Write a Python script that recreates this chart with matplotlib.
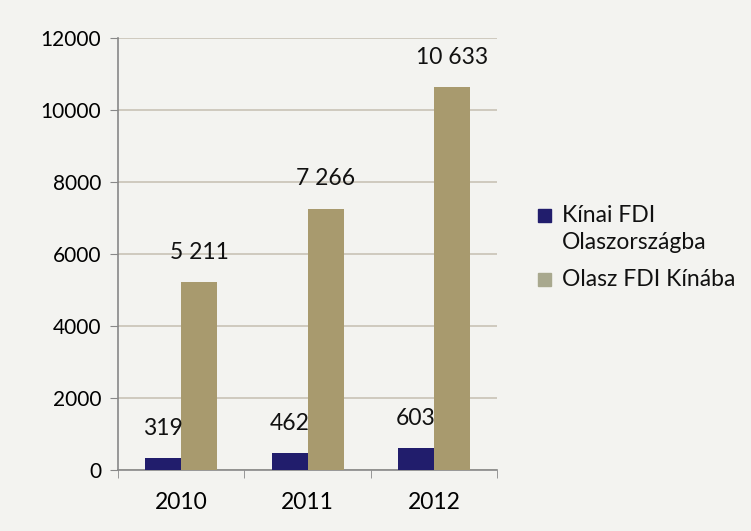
import matplotlib.pyplot as plt
from matplotlib.patches import Rectangle
import numpy as np

plt.rcParams['font.family'] = ['Lato', 'DejaVu Sans']

years = ['2010', '2011', '2012']
kinai_fdi = [319, 462, 603]
olasz_fdi = [5211, 7266, 10633]
kinai_labels = ['319', '462', '603']
olasz_labels = ['5 211', '7 266', '10 633']
legend_names = ['Kínai FDI\nOlaszországba', 'Olasz FDI Kínába']

navy = '#211d6c'
tan = '#a89a6e'
bg = '#f3f3f0'

fig = plt.figure(figsize=(7.51, 5.31), dpi=100, facecolor=bg)
ax = fig.add_axes([0.157, 0.115, 0.505, 0.813])
ax.set_facecolor(bg)

x = np.arange(len(years))
w = 0.285
b1 = ax.bar(x - w / 2, kinai_fdi, w, color=navy, zorder=3)
b2 = ax.bar(x + w / 2, olasz_fdi, w, color=tan, zorder=3)

for bars, labs in [(b1, kinai_labels), (b2, olasz_labels)]:
    for r, t in zip(bars, labs):
        ax.annotate(t, (r.get_x() + r.get_width() / 2, r.get_height()),
                    xytext=(0, 14), textcoords='offset points',
                    ha='center', va='bottom', fontsize=16.5, color='#111111')

ax.set_ylim(0, 12000)
ax.set_xlim(-0.5, 2.5)
ax.set_yticks(range(0, 12001, 2000))
ax.yaxis.grid(True, color='#c8c2b6', lw=1.2, zorder=0)
ax.set_xticks(x)
ax.set_xticklabels(years)
ax.set_xticks([-0.5, 0.5, 1.5, 2.5], minor=True)
ax.tick_params(axis='x', which='major', length=0, pad=16, labelsize=16.5)
ax.tick_params(axis='x', which='minor', length=6, color='#888888')
ax.tick_params(axis='y', length=6, color='#888888', labelsize=15, pad=6)
for s in ['top', 'right']:
    ax.spines[s].set_visible(False)
for s in ['left', 'bottom']:
    ax.spines[s].set_color('#888888')
    ax.spines[s].set_linewidth(1.2)

# legend, marker next to the first text line
W, H = 751, 531
for (ytop, col, name) in [(209, navy, legend_names[0]), (273, '#a8a88e', legend_names[1])]:
    fig.patches.append(Rectangle((538 / W, 1 - (ytop + 13) / H), 13 / W, 13 / H,
                                 transform=fig.transFigure, color=col))
    fig.text(562 / W, 1 - (ytop - 4) / H, name, ha='left', va='top',
             fontsize=16.5, color='#111111', linespacing=1.35)

fig.savefig('out.png', dpi=100, facecolor=bg)
